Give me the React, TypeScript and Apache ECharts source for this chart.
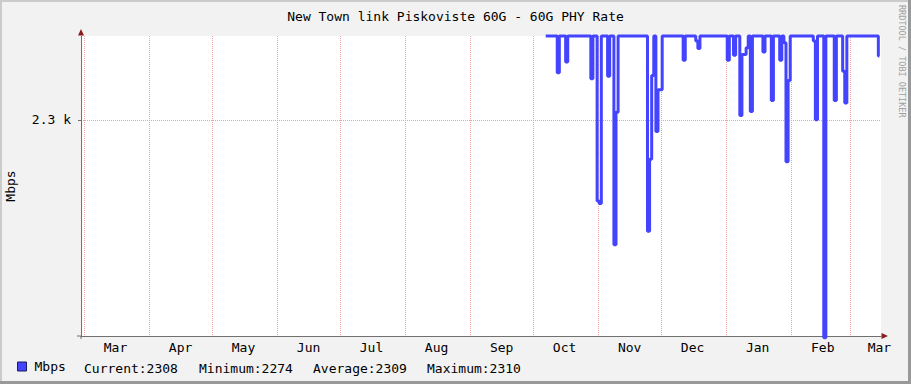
import React, { useEffect, useRef } from 'react';
import * as echarts from 'echarts';

const chartTitle = 'New Town link Piskoviste 60G - 60G PHY Rate';
const seriesName = 'Mbps';
const watermark = 'RRDTOOL / TOBI OETIKER';

// daily averages, first value on 2022-10-07, one value per day
const firstDay = [2022, 9, 7];
const dailyMbps = [
  2310, 2310, 2310, 2310, 2310, 2310, 2305.6, 2310, 2310, 2310,
  2306.9, 2310, 2310, 2310, 2310, 2310, 2310, 2310, 2310, 2310,
  2310, 2310, 2304.9, 2310, 2310, 2290.3, 2290.0, 2310, 2310, 2310,
  2305.2, 2310, 2310, 2285.1, 2300.9, 2310, 2310, 2310, 2310, 2310,
  2310, 2310, 2310, 2310, 2310, 2310, 2310, 2310, 2310, 2286.7,
  2295.3, 2305.3, 2310, 2298.6, 2303.6, 2303.6, 2310, 2310, 2310, 2310,
  2310, 2310, 2310, 2310, 2310, 2310, 2307.1, 2310, 2310, 2310,
  2310, 2310, 2309.4, 2308.5, 2310, 2310, 2310, 2310, 2310, 2310,
  2310, 2310, 2310, 2310, 2310, 2310, 2310, 2307.1, 2310, 2310,
  2307.7, 2310, 2310, 2300.5, 2307.8, 2307.8, 2308.6, 2310, 2301.0, 2310,
  2310, 2310, 2310, 2310, 2308.1, 2310, 2310, 2310, 2302.3, 2310,
  2310, 2310, 2307.1, 2310, 2309.2, 2295.0, 2304.7, 2310, 2310, 2310,
  2310, 2310, 2310, 2310, 2310, 2310, 2310, 2310, 2309.4, 2300.0,
  2310, 2310, 2310, 2274, 2310, 2310, 2310, 2310, 2302.3, 2310,
  2310, 2310, 2305.8, 2302.0, 2310, 2310, 2310, 2310, 2310, 2310,
  2310, 2310, 2310, 2310, 2310, 2310, 2310, 2310, 2310, 2307.6,
];

const monthStarts = [
  [2022, 2, 1], [2022, 3, 1], [2022, 4, 1], [2022, 5, 1], [2022, 6, 1],
  [2022, 7, 1], [2022, 8, 1], [2022, 9, 1], [2022, 10, 1], [2022, 11, 1],
  [2023, 0, 1], [2023, 1, 1], [2023, 2, 1],
];
const monthLabelDates = [
  [2022, 2, 16], [2022, 3, 16], [2022, 4, 16], [2022, 5, 16], [2022, 6, 16],
  [2022, 7, 16], [2022, 8, 16], [2022, 9, 16], [2022, 10, 16], [2022, 11, 16],
  [2023, 0, 16], [2023, 1, 16], [2023, 2, 15],
];
const monthNames = ['Jan', 'Feb', 'Mar', 'Apr', 'May', 'Jun', 'Jul', 'Aug', 'Sep', 'Oct', 'Nov', 'Dec'];

const yMin = 2274.2;
const yMax = 2310;
const yTicks = [2300];

const legendStats = [
  { label: 'Current', value: 2308 },
  { label: 'Minimum', value: 2274 },
  { label: 'Average', value: 2309 },
  { label: 'Maximum', value: 2310 },
];

const FONT = 'DejaVu Sans Mono';
const LINE_COLOR = '#4444ff';
const GRID_COLOR = '#eda3a3';
const AXIS_COLOR = '#707070';
const ARROW_COLOR = '#8a1c1c';

const toTime = (d: number[]) => new Date(d[0], d[1], d[2]).getTime();

export default function App() {
  const ref = useRef<HTMLDivElement>(null);
  useEffect(() => {
    if (!ref.current) return;
    const chart = echarts.init(ref.current, undefined, { renderer: 'svg' });
    const data = dailyMbps.map((v, i) => [
      new Date(firstDay[0], firstDay[1], firstDay[2] + i).getTime(),
      v,
    ]);
    const xMin = new Date(2022, 1, 27, 13, 40).getTime();
    const xMax = new Date(2023, 2, 15, 18, 28).getTime();
    const statX = [84, 199, 313, 427];

    chart.setOption({
      animation: false,
      backgroundColor: '#f2f2f2',
      title: {
        text: chartTitle,
        left: 'center',
        top: 5,
        textStyle: { fontFamily: FONT, fontSize: 13, fontWeight: 'normal', color: '#000' },
      },
      legend: {
        data: [{ name: seriesName, icon: 'rect' }],
        left: 17,
        top: 360,
        padding: 0,
        itemWidth: 9,
        itemHeight: 9,
        itemStyle: { borderColor: '#1a1a60', borderWidth: 1 },
        textStyle: { fontFamily: FONT, fontSize: 13, color: '#000', padding: [0, 0, 0, 3] },
      },
      grid: {
        left: 81,
        top: 36,
        width: 800,
        height: 300,
        show: true,
        backgroundColor: '#ffffff',
        borderWidth: 0,
        containLabel: false,
        outerBoundsMode: 'none',
      },
      xAxis: {
        type: 'value',
        min: xMin,
        max: xMax,
        axisLine: { show: true, lineStyle: { color: AXIS_COLOR, width: 1 } },
        axisTick: { show: false, customValues: monthStarts.map(toTime) },
        splitLine: { show: true, lineStyle: { color: GRID_COLOR, type: [1, 1], width: 1 } },
        axisLabel: {
          customValues: monthLabelDates.map(toTime),
          formatter: (v: number) => monthNames[new Date(v).getMonth()],
          fontFamily: FONT,
          fontSize: 13,
          color: '#000',
          margin: 5,
          hideOverlap: false,
        },
      },
      yAxis: {
        type: 'value',
        min: yMin,
        max: yMax,
        name: seriesName,
        nameLocation: 'middle',
        nameRotate: 90,
        nameGap: 64,
        nameTextStyle: { fontFamily: FONT, fontSize: 13, color: '#000' },
        axisLine: { show: true, lineStyle: { color: AXIS_COLOR, width: 1 } },
        axisTick: { show: true, length: 3, customValues: yTicks, lineStyle: { color: AXIS_COLOR } },
        splitLine: { show: true, lineStyle: { color: GRID_COLOR, type: [1, 1], width: 1 } },
        axisLabel: {
          customValues: yTicks,
          formatter: (v: number) => (v / 1000).toFixed(1) + ' k',
          fontFamily: FONT,
          fontSize: 13,
          color: '#000',
          margin: 10,
        },
      },
      series: [
        {
          name: seriesName,
          type: 'line',
          step: 'middle',
          data,
          color: LINE_COLOR,
          showSymbol: false,
          symbol: 'none',
          lineStyle: { color: LINE_COLOR, width: 3 },
          clip: false,
        },
      ],
      graphic: [
        { type: 'rect', shape: { x: 0, y: 0, width: 911, height: 2 }, style: { fill: '#cbcbcb' }, silent: true },
        { type: 'rect', shape: { x: 0, y: 0, width: 2, height: 384 }, style: { fill: '#cbcbcb' }, silent: true },
        { type: 'rect', shape: { x: 908, y: 0, width: 3, height: 384 }, style: { fill: '#999999' }, silent: true },
        { type: 'rect', shape: { x: 0, y: 381, width: 911, height: 3 }, style: { fill: '#999999' }, silent: true },
        { type: 'line', shape: { x1: 81, y1: 336, x2: 81, y2: 339 }, style: { stroke: AXIS_COLOR, lineWidth: 1 }, silent: true },
        { type: 'line', shape: { x1: 77, y1: 336, x2: 81, y2: 336 }, style: { stroke: AXIS_COLOR, lineWidth: 1 }, silent: true },
        { type: 'polygon', shape: { points: [[81, 29], [78, 35.5], [84, 35.5]] }, style: { fill: ARROW_COLOR }, silent: true },
        { type: 'polygon', shape: { points: [[888, 336], [881.5, 333], [881.5, 339]] }, style: { fill: ARROW_COLOR }, silent: true },
        {
          type: 'text',
          x: 906,
          y: 5,
          rotation: -Math.PI / 2,
          silent: true,
          style: { text: watermark, fontFamily: FONT, fontSize: 8.5, fill: '#a0a0a0', align: 'left', verticalAlign: 'top' },
        },
        ...legendStats.map((s, i) => ({
          type: 'text',
          x: statX[i],
          y: 368,
          silent: true,
          style: {
            text: `${s.label}:${s.value}`,
            fontFamily: FONT,
            fontSize: 13,
            fill: '#000',
            align: 'left',
            verticalAlign: 'middle',
          },
        })),
      ],
    });
    return () => chart.dispose();
  }, []);
  return <div ref={ref} style={{ position: 'fixed', left: 0, top: 0, width: 911, height: 384 }} />;
}
